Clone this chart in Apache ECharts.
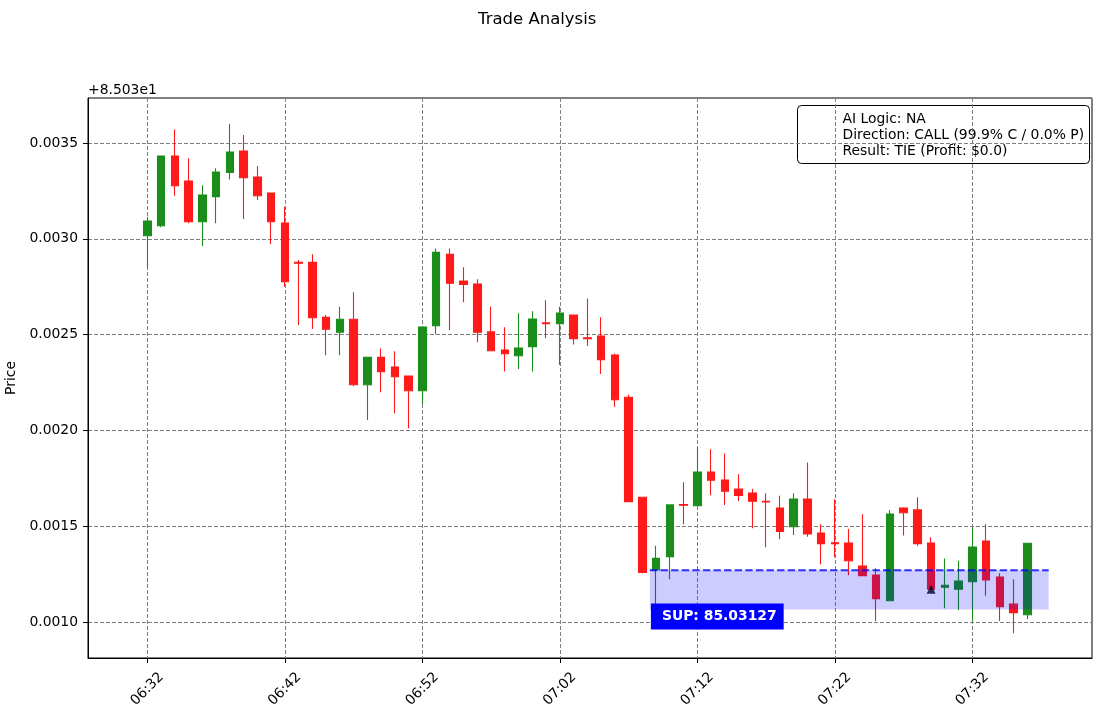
<!DOCTYPE html>
<html>
<head>
<meta charset="utf-8">
<title>Trade Analysis</title>
<script src="https://cdn.jsdelivr.net/npm/echarts@6/dist/echarts.min.js"></script>
<style>
  html, body { margin: 0; padding: 0; background: #fff; }
  #chart-container { width: 1105px; height: 716px; }
</style>
</head>
<body>
<div id="chart-container"></div>
<script>
// one candle per minute, 06:32 .. 07:36
var times = [
  '06:32','06:33','06:34','06:35','06:36','06:37','06:38','06:39','06:40','06:41',
  '06:42','06:43','06:44','06:45','06:46','06:47','06:48','06:49','06:50','06:51',
  '06:52','06:53','06:54','06:55','06:56','06:57','06:58','06:59','07:00','07:01',
  '07:02','07:03','07:04','07:05','07:06','07:07','07:08','07:09','07:10','07:11',
  '07:12','07:13','07:14','07:15','07:16','07:17','07:18','07:19','07:20','07:21',
  '07:22','07:23','07:24','07:25','07:26','07:27','07:28','07:29','07:30','07:31',
  '07:32','07:33','07:34','07:35','07:36'
];
var opens = [
  85.033016, 85.033068, 85.033432, 85.033302, 85.033089, 85.033220, 85.033347, 85.033458, 85.033322, 85.033239,
  85.033082, 85.032877, 85.032877, 85.032590, 85.032512, 85.032580, 85.032238, 85.032381, 85.032331, 85.032284,
  85.032207, 85.032546, 85.032919, 85.032780, 85.032764, 85.032514, 85.032420, 85.032390, 85.032437, 85.032561,
  85.032557, 85.032602, 85.032483, 85.032493, 85.032393, 85.032173, 85.031651, 85.031271, 85.031341, 85.031613,
  85.031607, 85.031783, 85.031741, 85.031694, 85.031673, 85.031630, 85.031595, 85.031497, 85.031642, 85.031464,
  85.031413, 85.031412, 85.031292, 85.031245, 85.031111, 85.031595, 85.031585, 85.031412, 85.031181, 85.031171,
  85.031210, 85.031423, 85.031235, 85.031094, 85.031038
];
var closes = [
  85.033093, 85.033432, 85.033277, 85.033089, 85.033229, 85.033349, 85.033453, 85.033319, 85.033225, 85.033089,
  85.032776, 85.032873, 85.032588, 85.032528, 85.032580, 85.032238, 85.032381, 85.032306, 85.032280, 85.032207,
  85.032540, 85.032929, 85.032768, 85.032762, 85.032512, 85.032416, 85.032400, 85.032430, 85.032581, 85.032557,
  85.032613, 85.032479, 85.032479, 85.032369, 85.032160, 85.031628, 85.031259, 85.031332, 85.031611, 85.031609,
  85.031783, 85.031740, 85.031682, 85.031661, 85.031630, 85.031626, 85.031473, 85.031642, 85.031459, 85.031409,
  85.031409, 85.031320, 85.031242, 85.031122, 85.031564, 85.031570, 85.031409, 85.031171, 85.031192, 85.031214,
  85.031391, 85.031219, 85.031080, 85.031049, 85.031411
];
var lows = [
  85.032849, 85.033060, 85.033225, 85.033081, 85.032962, 85.033081, 85.033310, 85.033103, 85.033202, 85.032973,
  85.032750, 85.032550, 85.032529, 85.032392, 85.032392, 85.032230, 85.032054, 85.032199, 85.032089, 85.032011,
  85.032138, 85.032502, 85.032524, 85.032669, 85.032460, 85.032416, 85.032308, 85.032320, 85.032308, 85.032481,
  85.032341, 85.032449, 85.032440, 85.032294, 85.032124, 85.031628, 85.031254, 85.031084, 85.031223, 85.031510,
  85.031607, 85.031661, 85.031611, 85.031632, 85.031489, 85.031390, 85.031432, 85.031454, 85.031445, 85.031301,
  85.031338, 85.031244, 85.031242, 85.031005, 85.031111, 85.031452, 85.031398, 85.031171, 85.031072, 85.031063,
  85.031002, 85.031137, 85.031005, 85.030941, 85.031014
];
var highs = [
  85.033115, 85.033435, 85.033571, 85.033420, 85.033279, 85.033368, 85.033599, 85.033542, 85.033380, 85.033239,
  85.033167, 85.032889, 85.032919, 85.032602, 85.032646, 85.032721, 85.032381, 85.032428, 85.032413, 85.032284,
  85.032540, 85.032950, 85.032950, 85.032851, 85.032789, 85.032646, 85.032538, 85.032611, 85.032622, 85.032679,
  85.032646, 85.032602, 85.032689, 85.032590, 85.032402, 85.032188, 85.031651, 85.031398, 85.031611, 85.031729,
  85.031910, 85.031901, 85.031880, 85.031771, 85.031694, 85.031672, 85.031659, 85.031672, 85.031833, 85.031510,
  85.031640, 85.031485, 85.031562, 85.031280, 85.031585, 85.031599, 85.031651, 85.031442, 85.031332, 85.031320,
  85.031494, 85.031510, 85.031254, 85.031223, 85.031411
];
var xTickLabels = ['06:32', '06:42', '06:52', '07:02', '07:12', '07:22', '07:32'];
var yOffset = 85.03;

// support zone (x in minutes from first candle)
var supLevel = 85.03127;
var zoneLow = 85.031065;
var zoneStart = 36.55;
var zoneEnd = 65.55;

// entry marker
var entryIdx = [57];
var entryPrice = [85.031171];

var infoLines = [
  'AI Logic: NA',
  'Direction: CALL (99.9% C / 0.0% P)',
  'Result: TIE (Profit: $0.0)'
];

var FONT = '"DejaVu Sans", "Liberation Sans", sans-serif';
var RED = '#ff1a1a';
var GREEN = '#1a8d1a';

var dom = document.getElementById('chart-container');
var myChart = echarts.init(dom, null, { renderer: 'canvas' });

var candleData = times.map(function (t, i) {
  return [i, opens[i], closes[i], lows[i], highs[i]];
});

var gridLine = { show: true, lineStyle: { color: '#808080', width: 1, type: [4, 2] } };

var option = {
  animation: false,
  backgroundColor: '#fff',
  textStyle: { fontFamily: FONT },
  title: {
    text: 'Trade Analysis',
    left: 473,
    top: 6,
    textStyle: { fontFamily: FONT, fontSize: 16.5, fontWeight: 'normal', color: '#000' }
  },
  grid: {
    left: 88, top: 98, right: 13, bottom: 58,
    outerBoundsMode: 'none',
    containLabel: false,
    show: true, borderColor: '#000', borderWidth: 1
  },
  xAxis: {
    type: 'value',
    min: -4.31,
    max: 68.7,
    minInterval: 10,
    maxInterval: 10,
    axisLine: { show: true, onZero: false, lineStyle: { color: '#000' } },
    axisTick: { show: true, length: 5, lineStyle: { color: '#000' } },
    splitLine: gridLine,
    axisLabel: {
      rotate: 45,
      align: 'center',
      verticalAlign: 'middle',
      margin: 31,
      showMinLabel: false,
      showMaxLabel: false,
      color: '#000',
      fontSize: 13.9,
      fontFamily: FONT,
      formatter: function (v) {
        var k = Math.round(v / 10);
        if (Math.abs(v - k * 10) > 1e-6) return '';
        return xTickLabels[k] || '';
      }
    }
  },
  yAxis: {
    type: 'value',
    min: 85.030812,
    max: 85.033735,
    minInterval: 0.0005,
    maxInterval: 0.0005,
    scale: true,
    name: 'Price',
    nameLocation: 'middle',
    nameGap: 58,
    nameRotate: 90,
    nameTextStyle: { fontFamily: FONT, fontSize: 13.9, color: '#000' },
    axisLine: { show: true, onZero: false, lineStyle: { color: '#000' } },
    axisTick: { show: true, length: 5, lineStyle: { color: '#000' } },
    splitLine: gridLine,
    axisLabel: {
      margin: 10,
      showMinLabel: false,
      showMaxLabel: false,
      color: '#000',
      fontSize: 13.9,
      fontFamily: FONT,
      formatter: function (v) { return (v - yOffset).toFixed(4); }
    }
  },
  graphic: [
    {
      type: 'text', left: 88, top: 83,
      style: { text: '+8.503e1', font: '13.9px ' + FONT, fill: '#000' }
    },
    {
      type: 'group', left: 797, top: 105,
      children: [
        { type: 'rect', shape: { x: 0, y: 0, width: 292, height: 58, r: 4 },
          style: { fill: '#fff', stroke: '#000', lineWidth: 1 } },
        { type: 'text', x: 45, y: 6,
          style: { text: infoLines.join('\n'), font: '13.9px ' + FONT, fill: '#000', lineHeight: 16 } }
      ],
      z: 100
    }
  ],
  series: [
    {
      type: 'candlestick',
      data: candleData,
      encode: { x: 0, y: [1, 2, 3, 4] },
      barWidth: 8,
      z: 2,
      itemStyle: {
        color: GREEN, color0: RED,
        borderColor: GREEN, borderColor0: RED,
        borderWidth: 1.1
      }
    },
    {
      type: 'scatter',
      data: entryIdx.map(function (x, i) { return [x, entryPrice[i]]; }),
      symbol: 'triangle',
      symbolSize: 9,
      itemStyle: { color: '#000' },
      z: 3
    },
    {
      type: 'custom',
      z: 4,
      data: [[zoneStart, zoneEnd, zoneLow, supLevel]],
      encode: { x: [0, 1], y: [2, 3] },
      renderItem: function (params, api) {
        var p0 = api.coord([api.value(0), api.value(3)]);
        var p1 = api.coord([api.value(1), api.value(2)]);
        return {
          type: 'group',
          children: [
            { type: 'rect',
              shape: { x: p0[0], y: p0[1], width: p1[0] - p0[0], height: p1[1] - p0[1] },
              style: { fill: 'rgba(0,0,255,0.2)' } },
            { type: 'line',
              shape: { x1: p0[0], y1: p0[1], x2: p1[0], y2: p0[1] },
              style: { stroke: 'rgba(0,0,255,0.8)', lineWidth: 2, lineDash: [7.4, 3.2] } },
            { type: 'text', x: p0[0] + 1, y: p1[1] - 6,
              style: {
                text: 'SUP: ' + supLevel.toFixed(5),
                font: 'bold 13.9px ' + FONT, fill: '#fff',
                backgroundColor: '#0000ff', padding: [6, 7, 6, 11],
                verticalAlign: 'top'
              } }
          ]
        };
      }
    }
  ]
};

myChart.setOption(option);
window.addEventListener('resize', myChart.resize);
</script>
</body>
</html>
